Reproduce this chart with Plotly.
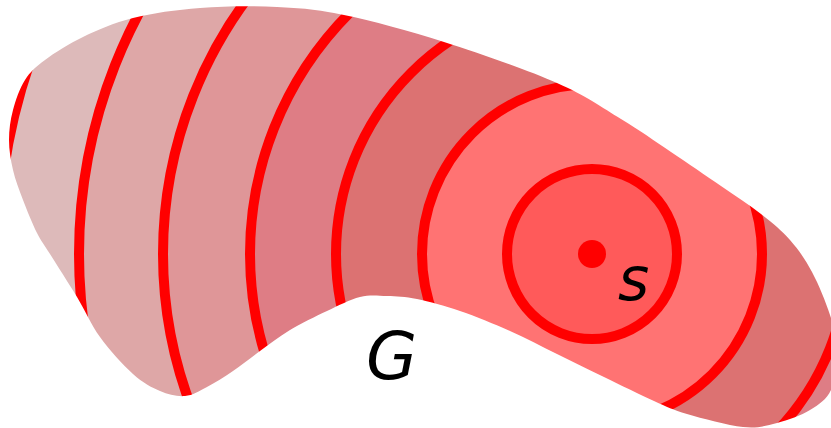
import plotly.graph_objects as go

# ---- data ----
center_s = (592, 254)
radii = [85, 170, 256, 342, 429, 513, 594]
band_colors = ["#ff5a5a", "#ff7373", "#dc7272", "#de7d85", "#df9698", "#dea7a7", "#ddbaba"]
outer_color = "#dcc5c5"
line_color = "#ff0000"
dot_radius = 14

# outline of region G (pixel coordinates, y down)
blob_x = [9, 13, 25, 45, 83, 133, 200, 277, 344, 444, 557, 621, 671, 721, 761, 790, 812, 830, 838,
          831, 810, 777, 743, 687, 654, 604, 557, 510, 460, 417, 387, 360, 327, 290, 260, 233, 207,
          185, 160, 133, 100, 77, 50, 37, 23, 13]
blob_y = [140, 110, 80, 60, 37, 18, 8, 7, 15, 42, 83, 119, 152, 186, 214, 240, 272, 315, 352,
          390, 410, 423, 427, 414, 401, 377, 354, 331, 311, 299, 296, 297, 311, 330, 351, 371, 387,
          396, 391, 374, 337, 297, 254, 233, 200, 170]

labels = [("s", 633, 279, 60), ("G", 391, 356, 66)]

W, H = 831, 428


def smooth_closed_path(xs, ys):
    n = len(xs)
    pts = list(zip(xs, ys))
    s = f"M {pts[0][0]},{pts[0][1]} "
    for i in range(n):
        p0 = pts[(i - 1) % n]
        p1 = pts[i]
        p2 = pts[(i + 1) % n]
        p3 = pts[(i + 2) % n]
        c1 = (p1[0] + (p2[0] - p0[0]) / 6, p1[1] + (p2[1] - p0[1]) / 6)
        c2 = (p2[0] - (p3[0] - p1[0]) / 6, p2[1] - (p3[1] - p1[1]) / 6)
        s += f"C {c1[0]:.2f},{c1[1]:.2f} {c2[0]:.2f},{c2[1]:.2f} {p2[0]},{p2[1]} "
    return s + "Z"


cx, cy = center_s
shapes = []
# background band beyond the last circle
shapes.append(dict(type="circle", xref="x", yref="y", x0=cx - 1000, x1=cx + 1000, y0=cy - 1000, y1=cy + 1000,
                   fillcolor=outer_color, line=dict(width=0)))
for r, col in sorted(zip(radii, band_colors), reverse=True):
    shapes.append(dict(type="circle", xref="x", yref="y", x0=cx - r, x1=cx + r, y0=cy - r, y1=cy + r,
                       fillcolor=col, line=dict(color=line_color, width=10)))

# white mask outside G
mask = "M -50,-50 L 900,-50 L 900,480 L -50,480 Z " + smooth_closed_path(blob_x, blob_y)
shapes.append(dict(type="path", xref="x", yref="y", path=mask, fillcolor="white",
                   fillrule="evenodd", line=dict(width=0)))

# source point
shapes.append(dict(type="circle", xref="x", yref="y", x0=cx - dot_radius, x1=cx + dot_radius,
                   y0=cy - dot_radius, y1=cy + dot_radius, fillcolor=line_color, line=dict(width=0)))

annotations = [dict(x=x, y=y, xref="x", yref="y", text=t, showarrow=False,
                    font=dict(family="DejaVu Sans", size=sz, color="black", style="italic"),
                    xanchor="center", yanchor="middle")
               for t, x, y, sz in labels]

fig = go.Figure()
fig.add_trace(go.Scatter(x=[0, W], y=[0, H], mode="markers", marker=dict(opacity=0), hoverinfo="skip",
                         showlegend=False))
fig.update_layout(
    width=W, height=H, margin=dict(l=0, r=0, t=0, b=0),
    paper_bgcolor="white", plot_bgcolor="white",
    xaxis=dict(range=[0, W], visible=False, fixedrange=True),
    yaxis=dict(range=[H, 0], visible=False, fixedrange=True),
    shapes=shapes, annotations=annotations, showlegend=False,
)
fig.write_html("out.html", config={"displayModeBar": False},
               post_script="document.body.style.margin='0';document.body.style.overflow='hidden';")
